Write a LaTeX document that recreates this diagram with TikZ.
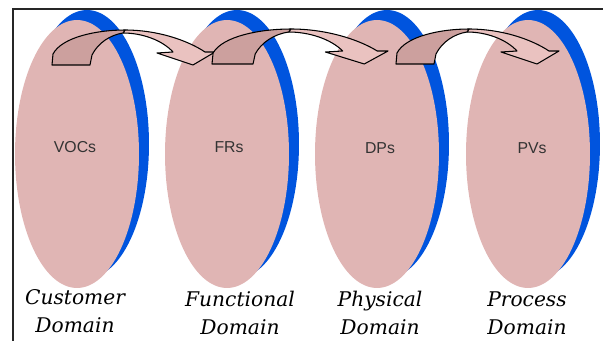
\documentclass[tikz,border=0pt]{standalone}
\usepackage{fontspec}
\setsansfont{Liberation Sans}
\newfontfamily\capfont{DejaVu Serif}
\usetikzlibrary{shapes.geometric}
\definecolor{DomPink}{RGB}{224,181,180}
\definecolor{DomBlue}{RGB}{0,84,222}
\definecolor{ArrFront}{RGB}{204,160,158}
\definecolor{ArrBack}{RGB}{234,194,192}
\tikzset{
  dom/.style={ellipse,fill=DomPink,minimum width=2.48cm,minimum height=5.36cm,inner sep=0pt,outer sep=0pt},
  domback/.style={dom,fill=DomBlue},
  tag/.style={font=\fontsize{9}{10}\selectfont\sffamily,text=black!80},
  domname/.style={font=\fontsize{11.5}{16}\selectfont\capfont\itshape,align=center,anchor=base},
  arr/.style={draw=black,line width=0.6pt,line join=round}
}
% curved block arrow: #1,#2 = foot of the tail, #3 = stretch
\newcommand{\domarrow}[3]{%
  \begin{scope}[shift={(#1,#2)},xscale=#3]
    \filldraw[arr,fill=ArrBack] (73,-35) .. controls (105,-35) and (135,-25) .. (153,-13)
      -- (163,-13) -- (141,0) -- (105,-12) -- (121,-13)
      .. controls (110,-25) and (90,-32) .. (71,-32) -- cycle;
    \filldraw[arr,fill=ArrFront] (0,0) -- (38,0) -- (40,-10)
      .. controls (46,-22) and (58,-30) .. (71,-32) -- (73,-35)
      .. controls (45,-35) and (10,-28) .. (1,-11) -- cycle;
  \end{scope}}

\begin{document}
\begin{tikzpicture}[x=0.02cm,y=-0.02cm]
  \useasboundingbox (0,0) rectangle (603,341);
  \draw[line width=1pt,black!85] (13,341) -- (13,9) -- (603,9);
  % domains
  \node[domback] (cdb) at (87,144) {};
  \node[dom] (cd) at (77,154) {};
  \node[domback] (fdb) at (237,144) {};
  \node[dom] (fd) at (227,154) {};
  \node[domback] (pdb) at (387,144) {};
  \node[dom] (pd) at (377,154) {};
  \node[domback] (rdb) at (538,144) {};
  \node[dom] (rd) at (528,154) {};
  \node[tag] (vocs) at (75,147) {VOCs};
  \node[tag] (frs) at (229,147) {FRs};
  \node[tag] (dps) at (380,148) {DPs};
  \node[tag] (pvs) at (532,148) {PVs};
  % mappings
  \domarrow{52}{65}{1}
  \domarrow{212}{64}{1.08}
  \domarrow{396}{64}{1}
  \node[domname] (cdname) at (75,333) {Customer\\Domain};
  \node[domname] (fdname) at (240,335) {Functional\\Domain};
  \node[domname] (pdname) at (380,335) {Physical\\Domain};
  \node[domname] (rdname) at (527,335) {Process\\Domain};
\end{tikzpicture}
\end{document}
